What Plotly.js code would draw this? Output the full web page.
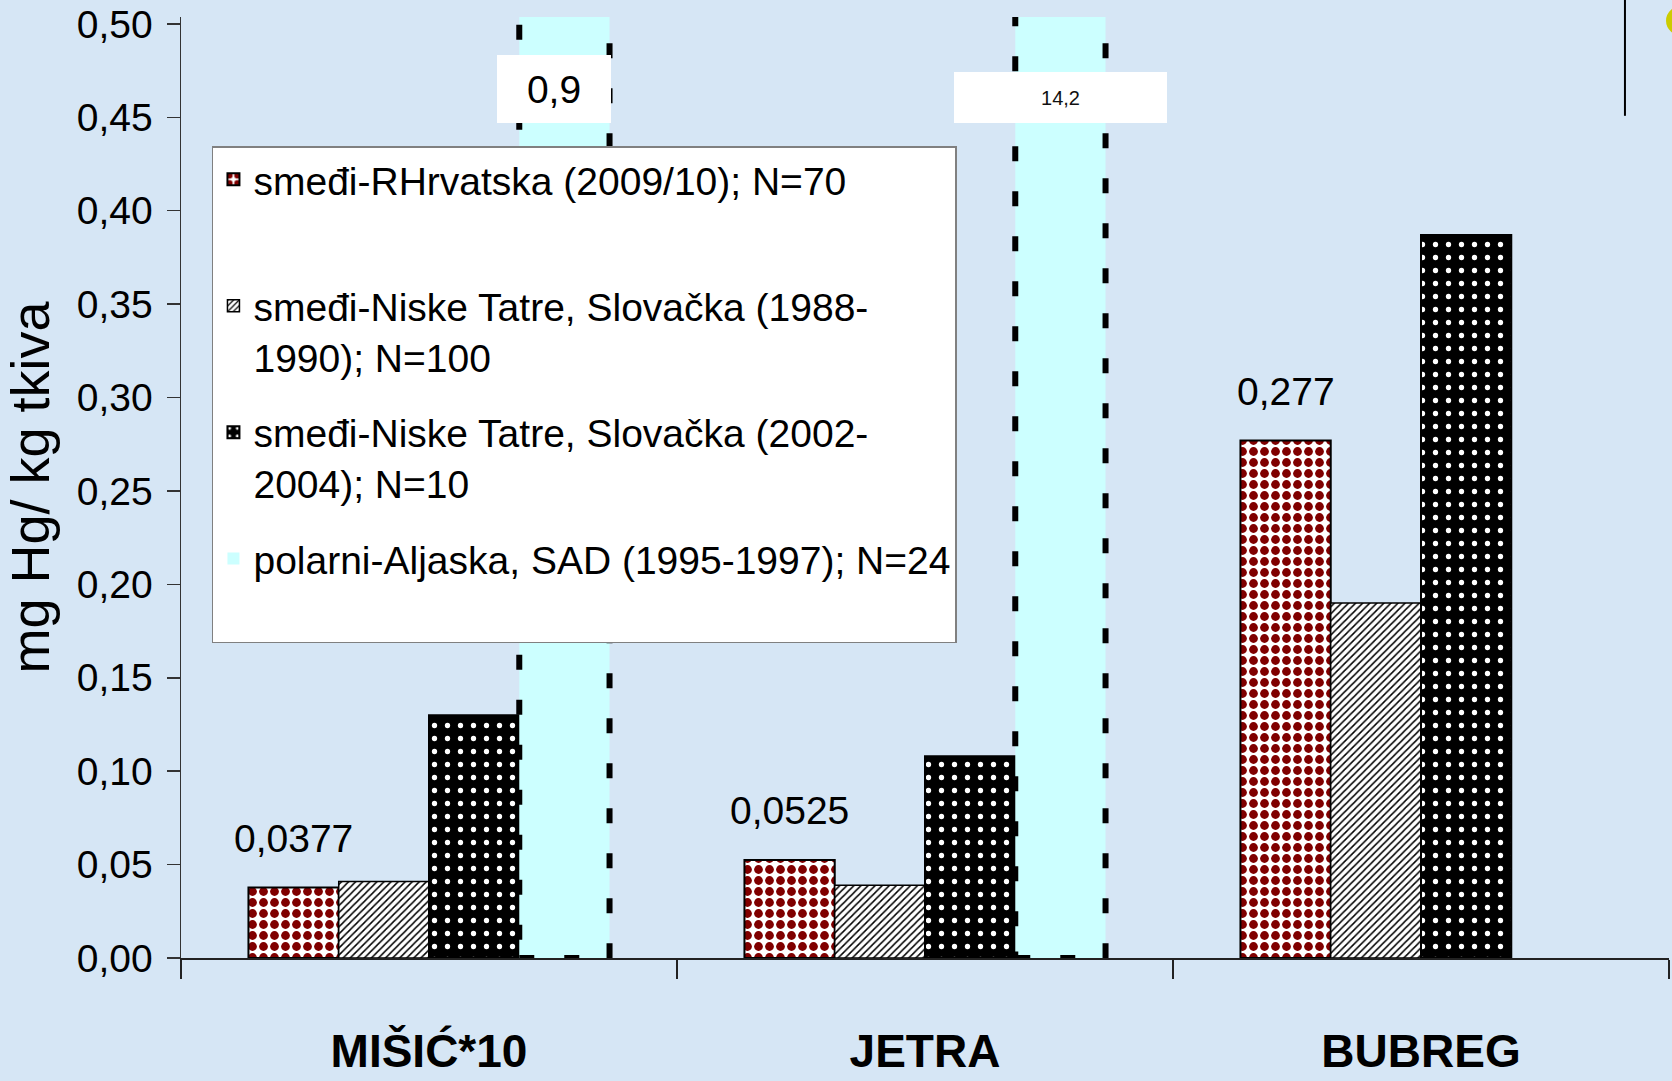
<!DOCTYPE html>
<html>
<head>
<meta charset="utf-8">
<script src="https://cdn.plot.ly/plotly-3.0.1.min.js"></script>
<style>
  html, body { margin: 0; padding: 0; background: #d6e6f5; }
  #chart { width: 1672px; height: 1081px; }
</style>
</head>
<body>
<div id="chart"></div>
<script>
// ---- data ----
const categories = ['MIŠIĆ*10', 'JETRA', 'BUBREG'];
const seriesNames = [
  'smeđi-RHrvatska (2009/10); N=70<br>&nbsp;',
  'smeđi-Niske Tatre, Slovačka (1988-<br>1990); N=100',
  'smeđi-Niske Tatre, Slovačka (2002-<br>2004); N=10',
  'polarni-Aljaska, SAD (1995-1997); N=24<br>&nbsp;'
];
const hrvatska  = [0.0377, 0.0525, 0.277];
const tatre8890 = [0.041, 0.039, 0.190];
const tatre0204 = [0.130, 0.108, 0.387];
const aljaska   = [0.9, 14.2, null];
const yTickVals = [0, 0.05, 0.10, 0.15, 0.20, 0.25, 0.30, 0.35, 0.40, 0.45, 0.50];
const yTitle = 'mg Hg/ kg tkiva';

// ---- style ----
const FONT = "'Liberation Sans', Arial, sans-serif";
const BG = '#d6e6f5';
const BARGAP = 0.272;
const NBARS = 4;
const fmt = v => String(v).replace('.', ',');
function barCenter(ci, k) {
  const w = 1 - BARGAP, bw = w / NBARS;
  return ci - w / 2 + bw * (k + 0.5);
}
function barEdges(ci, k) {
  const w = 1 - BARGAP, bw = w / NBARS;
  return [ci - w / 2 + bw * k, ci - w / 2 + bw * (k + 1)];
}

const traces = [
  {
    type: 'bar', name: seriesNames[0], x: categories, y: hrvatska, legendgroup: 'g1',
    marker: {
      color: '#800000',
      line: { color: 'black', width: 2 },
      pattern: { shape: '.', fgcolor: '#800000', bgcolor: 'white', size: 11, solidity: 0.5 }
    }
  },
  {
    type: 'bar', name: seriesNames[1], x: categories, y: tatre8890, legendgroup: 'g2',
    marker: {
      color: 'black',
      line: { color: 'black', width: 1.5 },
      pattern: { shape: '/', fgcolor: 'black', bgcolor: 'white', size: 5, solidity: 0.3 }
    }
  },
  {
    type: 'bar', name: seriesNames[2], x: categories, y: tatre0204, legendgroup: 'g3',
    marker: {
      color: 'black',
      line: { color: 'black', width: 2 },
      pattern: { shape: '.', fgcolor: 'white', bgcolor: 'black', size: 13, solidity: 0.13 }
    }
  },
  {
    type: 'bar', name: seriesNames[3], x: categories, y: aljaska, legendgroup: 'g4',
    marker: { color: '#ccffff', line: { color: 'black', width: 0 } }
  }
];

const shapes = [];
aljaska.forEach((v, i) => {
  if (v === null) return;
  const [x0, x1] = barEdges(i, 3);
  shapes.push({
    type: 'rect', xref: 'x', yref: 'y', x0: x0, x1: x1, y0: 0, y1: v,
    line: { color: 'black', width: 6, dash: '15px,30px' },
    fillcolor: 'rgba(0,0,0,0)', layer: 'above'
  });
});
// slide decorations (top right)
shapes.push({ type: 'line', xref: 'paper', yref: 'paper', x0: 0.9704, x1: 0.9704, y0: 1.02, y1: 0.895,
  line: { color: 'black', width: 2 } });
shapes.push({ type: 'circle', xref: 'paper', yref: 'paper', x0: 0.998, x1: 1.02, y0: 0.98, y1: 1.012,
  fillcolor: '#cccc00', line: { width: 0 } });

const annotations = [];
hrvatska.forEach((v, i) => {
  annotations.push({
    xref: 'x', yref: 'y', x: barCenter(i, 0), y: v, yanchor: 'bottom', yshift: 26,
    text: fmt(v), showarrow: false, font: { family: FONT, size: 39, color: 'black' }
  });
});
// value boxes for the clipped bars
annotations.push({
  xref: 'x', yref: 'paper', x: barCenter(0, 3), xshift: -10, y: 0.9235, yanchor: 'middle',
  text: fmt(aljaska[0]), showarrow: false, bgcolor: 'white', width: 114, height: 68,
  borderpad: 0, borderwidth: 0, font: { family: FONT, size: 39, color: 'black' }
});
annotations.push({
  xref: 'x', yref: 'paper', x: barCenter(1, 3), y: 0.9145, yanchor: 'middle',
  text: fmt(aljaska[1]), showarrow: false, bgcolor: 'white', width: 213, height: 51,
  borderpad: 0, borderwidth: 0, font: { family: FONT, size: 20, color: '#111' }
});

const layout = {
  width: 1672, height: 1081,
  margin: { l: 181, r: 3, t: 17, b: 123 },
  paper_bgcolor: BG, plot_bgcolor: BG,
  separators: ',.',
  barmode: 'group', bargap: BARGAP, bargroupgap: 0,
  showlegend: true,
  legend: {
    x: 0.0208, y: 0.8629, xanchor: 'left', yanchor: 'top',
    bgcolor: 'white', bordercolor: '#808080', borderwidth: 1.5,
    font: { family: FONT, size: 39, color: 'black' },
    valign: 'top', traceorder: 'grouped', tracegroupgap: 22
  },
  xaxis: {
    type: 'category', showline: true, linecolor: '#222', linewidth: 1.5,
    ticks: 'outside', tickson: 'boundaries', ticklen: 19, tickwidth: 1.5, tickcolor: '#222',
    showgrid: false, zeroline: false,
    tickfont: { family: FONT, size: 46, color: 'black', weight: 'bold' },
    ticklabelstandoff: 52
  },
  yaxis: {
    range: [0, 0.5037], tickvals: yTickVals, tickformat: '.2f',
    showline: true, linecolor: '#333', linewidth: 1.5,
    ticks: 'outside', ticklen: 13, tickwidth: 1.5, tickcolor: '#333',
    showgrid: false, zeroline: false,
    tickfont: { family: FONT, size: 39, color: 'black' },
    ticklabelstandoff: 6, ticklabeloverflow: 'allow',
    title: { text: yTitle, font: { family: FONT, size: 54, color: 'black' }, standoff: 18 }
  },
  shapes: shapes,
  annotations: annotations
};

Plotly.newPlot('chart', traces, layout, { displayModeBar: false, staticPlot: true });
</script>
</body>
</html>
